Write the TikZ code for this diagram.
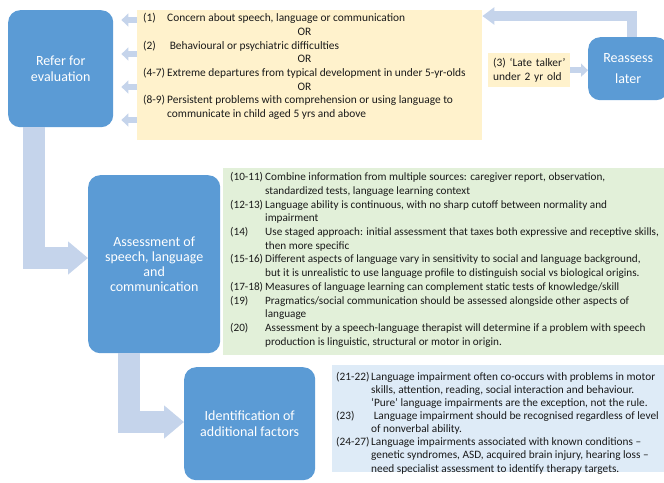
\documentclass[tikz,border=0pt]{standalone}
\usepackage{fontspec}
\setmainfont{Carlito}
\usetikzlibrary{arrows.meta}
\definecolor{boxblue}{HTML}{5B9BD5}
\definecolor{arrowblue}{HTML}{C5D4EB}
\definecolor{noteyellow}{HTML}{FFF2CC}
\definecolor{notegreen}{HTML}{E2F0D9}
\definecolor{noteblue}{HTML}{DEEBF7}
\definecolor{notetextcol}{HTML}{1A1A1A}
\begin{document}
\begin{tikzpicture}[x=1pt,y=-1pt,
  stage/.style={fill=boxblue, rounded corners=12pt, text=white, align=center,
    inner sep=0pt, anchor=north west, font=\fontsize{14}{15.3}\selectfont},
  notebox/.style={anchor=north west, inner sep=0pt},
  notetext/.style={anchor=north west, inner sep=0pt, align=left, text=notetextcol,
    font=\fontsize{11.2}{13.7}\selectfont},
  bigarrow/.style={draw=arrowblue, line width=22pt, line join=miter,
    -{Triangle[width=32pt,length=20pt,fill=arrowblue]}},
  midarrow/.style={draw=arrowblue, line width=10pt, line join=miter,
    -{Triangle[width=17pt,length=12pt,fill=arrowblue]}},
  smallarrow/.style={draw=arrowblue, line width=6pt,
    -{Triangle[width=13pt,length=7pt,fill=arrowblue]}}
]
\clip (0,0) rectangle (664,482);

% boxes
\node[stage, minimum width=105pt, minimum height=117pt] (refer) at (8,10) {Refer for\\evaluation};
\node[notebox, fill=noteyellow, minimum width=345pt, minimum height=130pt] (yellow) at (137,10) {};
\node[notebox, fill=noteyellow, minimum width=82pt, minimum height=34pt, text width=72pt,
  inner xsep=5pt, align=left, text=notetextcol, font=\fontsize{11.4}{14}\selectfont] (late) at (488,53)
  {(3) ‘Late talker’\\under 2 yr old};
\node[stage, minimum width=80pt, minimum height=63pt] (reassess) at (588,37) {Reassess\\[6pt]later};
\node[notebox, fill=notegreen, minimum width=441pt, minimum height=187pt] (green) at (223,168) {};
\node[stage, minimum width=132pt, minimum height=178pt] (assess) at (88,175)
  {Assessment of\\speech, language\\and\\communication};
\node[stage, minimum width=131pt, minimum height=113pt] (ident) at (184,367)
  {Identification of\\additional factors};
\node[notebox, fill=noteblue, minimum width=332pt, minimum height=107pt] (bluebox) at (332,365) {};

% texts
\node[notetext, font=\fontsize{11.4}{13.7}\selectfont] (ytext) at (143,12) {\begin{tabular}{@{}p{24pt}@{}l@{}}
(1) & Concern about speech, language or communication\\
\multicolumn{2}{@{}c@{}}{OR}\\
(2) & \ Behavioural or psychiatric difficulties\\
\multicolumn{2}{@{}c@{}}{OR}\\
(4-7) & Extreme departures from typical development in under 5-yr-olds\\
\multicolumn{2}{@{}c@{}}{OR}\\
(8-9) & Persistent problems with comprehension or using language to\\
 & communicate in child aged 5 yrs and above
\end{tabular}};

\node[notetext] (gtext) at (230,171) {\begin{tabular}{@{}p{35pt}@{}l@{}}
(10-11) & Combine information from multiple sources: caregiver report, observation,\\
 & standardized tests, language learning context\\
(12-13) & Language ability is continuous, with no sharp cutoff between normality and\\
 & impairment\\
(14) & Use staged approach: initial assessment that taxes both expressive and receptive skills,\\
 & then more specific\\
(15-16) & Different aspects of language vary in sensitivity to social and language background,\\
 & but it is unrealistic to use language profile to distinguish social vs biological origins.\\
(17-18) & Measures of language learning can complement static tests of knowledge/skill\\
(19) & Pragmatics/social communication should be assessed alongside other aspects of\\
 & language\\
(20) & Assessment by a speech-language therapist will determine if a problem with speech\\
 & production is linguistic, structural or motor in origin.
\end{tabular}};

\node[notetext, font=\fontsize{11.3}{13.1}\selectfont] (btext) at (336,371) {\begin{tabular}{@{}p{35pt}@{}l@{}}
(21-22) & Language impairment often co-occurs with problems in motor\\
 & skills, attention, reading, social interaction and behaviour.\\
 & ‘Pure’ language impairments are the exception, not the rule.\\
(23) & \ Language impairment should be recognised regardless of level\\
 & of nonverbal ability.\\
(24-27) & Language impairments associated with known conditions –\\
 & genetic syndromes, ASD, acquired brain injury, hearing loss –\\
 & need specialist assessment to identify therapy targets.
\end{tabular}};

% helper coordinates
\coordinate (r1) at (0,20);
\coordinate (r2) at (0,54);
\coordinate (r3) at (0,87);
\coordinate (r4) at (0,120);
\coordinate (f) at (632,16);
\coordinate (b1) at (34,258);
\coordinate (b2) at (129,422);

% connectors
\foreach \r in {r1,r2,r3,r4}
  \draw[smallarrow, shorten >=8pt] (yellow.west |- \r) -- (refer.east |- \r);
\draw[smallarrow] (late.east) -- (reassess.west |- late.east);
\draw[midarrow] (reassess.north -| f) |- (yellow.east |- f);
\draw[bigarrow] (refer.south -| b1) |- (assess.west |- b1);
\draw[bigarrow] (assess.south -| b2) |- (ident.west |- b2);
\end{tikzpicture}
\end{document}
